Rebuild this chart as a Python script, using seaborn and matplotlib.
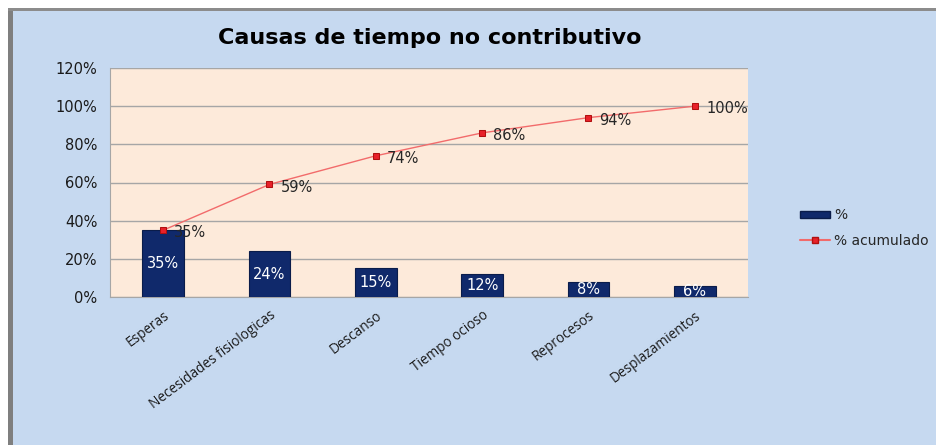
import numpy as np
import pandas as pd
import matplotlib.pyplot as plt
import seaborn as sns
from matplotlib.patches import Rectangle
from matplotlib.lines import Line2D
from matplotlib.ticker import PercentFormatter

# ===================== DATA =====================
causas = ["Esperas", "Necesidades fisiologicas", "Descanso",
          "Tiempo ocioso", "Reprocesos", "Desplazamientos"]
porcentaje = [35, 24, 15, 12, 8, 6]
acumulado = [35, 59, 74, 86, 94, 100]
y_ticks = [0, 20, 40, 60, 80, 100, 120]

df = pd.DataFrame({"Causa": causas, "Pct": porcentaje, "Acum": acumulado})

# ===================== STYLE =====================
sns.set_style("white")
plt.rcParams["font.family"] = ["DejaVu Sans"]

bg_blue = "#C6D9F0"
plot_bg = "#FDEADA"
navy = "#10296B"
red = "#E8212A"

fig = plt.figure(figsize=(9.37, 4.45), dpi=100)
fig.patch.set_facecolor("white")
# outer chart frame
fig.patches.append(Rectangle((8 / 937, 0), 1, 1 - 8 / 445, transform=fig.transFigure,
                             facecolor=bg_blue, edgecolor="none", zorder=-10))
fig.patches.append(Rectangle((8 / 937, 0), 5 / 937, 1 - 8 / 445, transform=fig.transFigure,
                             facecolor="#7F7F7F", edgecolor="none", zorder=-9))
fig.patches.append(Rectangle((8 / 937, 1 - 11 / 445), 1, 3 / 445, transform=fig.transFigure,
                             facecolor="#8C8C8C", edgecolor="none", zorder=-9))

ax = fig.add_axes([110 / 937, 148 / 445, 638 / 937, 229 / 445])
ax.set_facecolor(plot_bg)
ax.set_zorder(2)

# ===================== BARS =====================
sns.barplot(data=df, x="Causa", y="Pct", color=navy, width=0.39,
            edgecolor="#0A1C4A", linewidth=0.8, saturation=1, ax=ax, zorder=3)
ax.bar_label(ax.containers[0], labels=[f"{v}%" for v in porcentaje],
             label_type="center", color="white", fontsize=10.5, zorder=5)

# ===================== CUMULATIVE LINE =====================
xpos = np.arange(len(causas))
sns.lineplot(x=xpos, y=acumulado, color="#F26B6B", linewidth=1.0, marker="s",
             markersize=5, markerfacecolor=red, markeredgecolor="#B01010",
             ax=ax, zorder=4)
for x, v in zip(xpos, acumulado):
    ax.annotate(f"{v}%", (x, v), xytext=(8, -2), textcoords="offset points",
                ha="left", va="center", fontsize=10.5, color="#262626", zorder=6)

# ===================== AXES =====================
ax.set_ylim(0, 120)
ax.set_xlim(-0.5, len(causas) - 0.5)
ax.set_yticks(y_ticks)
ax.yaxis.set_major_formatter(PercentFormatter(decimals=0))
ax.grid(axis="y", color="#A6A6A6", linewidth=1.0, zorder=0)
ax.set_axisbelow(True)
ax.set_xlabel("")
ax.set_ylabel("")
for s in ["top", "right"]:
    ax.spines[s].set_visible(False)
for s in ["left", "bottom"]:
    ax.spines[s].set_color("#A6A6A6")

ax.set_xticks(xpos)
ax.set_xticklabels(causas, rotation=37, ha="right", rotation_mode="anchor",
                   fontsize=9.8, family="Open Sans", color="#1A1A1A")
ax.tick_params(axis="x", length=0, pad=8)
ax.set_xticks(np.arange(-0.5, len(causas)), minor=True)
ax.tick_params(axis="x", which="minor", length=5, color="#A6A6A6")
ax.tick_params(axis="y", length=5, color="#A6A6A6", labelsize=10.5, pad=4,
               labelcolor="#1A1A1A")

# ===================== TITLE =====================
fig.text(430 / 937, 1 - 38 / 445, "Causas de tiempo no contributivo",
         ha="center", va="center", fontsize=16, fontweight="bold",
         family="DejaVu Sans", color="black")

# ===================== LEGEND =====================
handles = [Rectangle((0, 0), 1, 1, facecolor=navy, edgecolor="#0A1C4A"),
           Line2D([0], [0], color="#F26B6B", marker="s", markersize=5,
                  markerfacecolor=red, markeredgecolor="#B01010")]
fig.legend(handles, ["%", "% acumulado"], loc="center left",
           bbox_to_anchor=(797 / 937, 1 - 228 / 445), frameon=False,
           fontsize=10, handlelength=2.2, handleheight=0.5, labelspacing=0.8,
           handletextpad=0.3, borderpad=0.2, borderaxespad=0)

fig.savefig("out.png", dpi=100, facecolor=fig.get_facecolor())
